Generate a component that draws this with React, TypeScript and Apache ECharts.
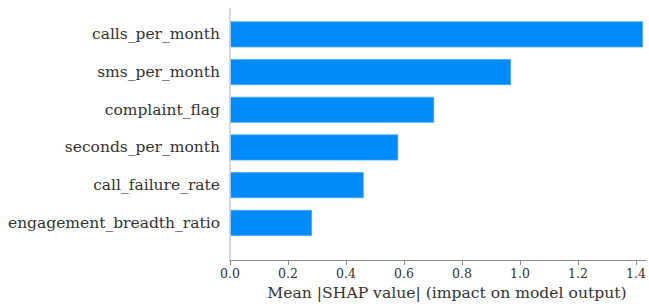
import React, { useEffect, useRef } from "react";
import * as echarts from "echarts";

const features = [
  "calls_per_month",
  "sms_per_month",
  "complaint_flag",
  "seconds_per_month",
  "call_failure_rate",
  "engagement_breadth_ratio",
];
const meanAbsShap = [1.424, 0.969, 0.704, 0.58, 0.461, 0.283];
const xTicks = [0, 0.2, 0.4, 0.6, 0.8, 1.0, 1.2, 1.4];
const xAxisTitle = "Mean |SHAP value| (impact on model output)";

export default function App() {
  const ref = useRef<HTMLDivElement>(null);
  useEffect(() => {
    if (!ref.current) return;
    const chart = echarts.init(ref.current, null, { renderer: "svg" });
    const font = "DejaVu Serif";
    chart.setOption({
      animation: false,
      backgroundColor: "#ffffff",
      grid: { left: 230, right: 1, top: 15.5, bottom: 65.3, containLabel: false },
      xAxis: {
        type: "value",
        min: 0,
        max: 1.434,
        interval: 0.2,
        offset: 18.3,
        splitLine: { show: false },
        axisLine: { show: true, lineStyle: { color: "#8a8a8a", width: 1 } },
        axisTick: { show: true, length: 5, customValues: xTicks, lineStyle: { color: "#8a8a8a" } },
        axisLabel: {
          customValues: xTicks,
          formatter: (v: number) => v.toFixed(1),
          color: "#333333",
          fontFamily: font,
          fontSize: 12.5,
          margin: 7,
        },
        name: xAxisTitle,
        nameLocation: "middle",
        nameGap: 24,
        nameTextStyle: { color: "#333333", fontFamily: font, fontSize: 15.6, padding: [0, 0, 0, 18] },
      },
      yAxis: {
        type: "category",
        data: features,
        inverse: true,
        axisLine: { show: false },
        axisTick: { show: false },
        splitLine: { show: false },
        axisLabel: { color: "#333333", fontFamily: font, fontSize: 15.5, margin: 10 },
      },
      graphic: [
        {
          type: "line",
          shape: { x1: 230, y1: 8, x2: 230, y2: 260 },
          style: { stroke: "#cccccc", lineWidth: 1.5 },
          z: 10,
        },
      ],
      series: [
        {
          type: "bar",
          data: meanAbsShap,
          barWidth: 26,
          itemStyle: { color: "#008bfb", borderColor: "#4aa8f7", borderWidth: 0.8 },
        },
      ],
    });
    return () => chart.dispose();
  }, []);
  return <div ref={ref} style={{ width: 649, height: 307, position: "absolute", left: 0, top: 0 }} />;
}
